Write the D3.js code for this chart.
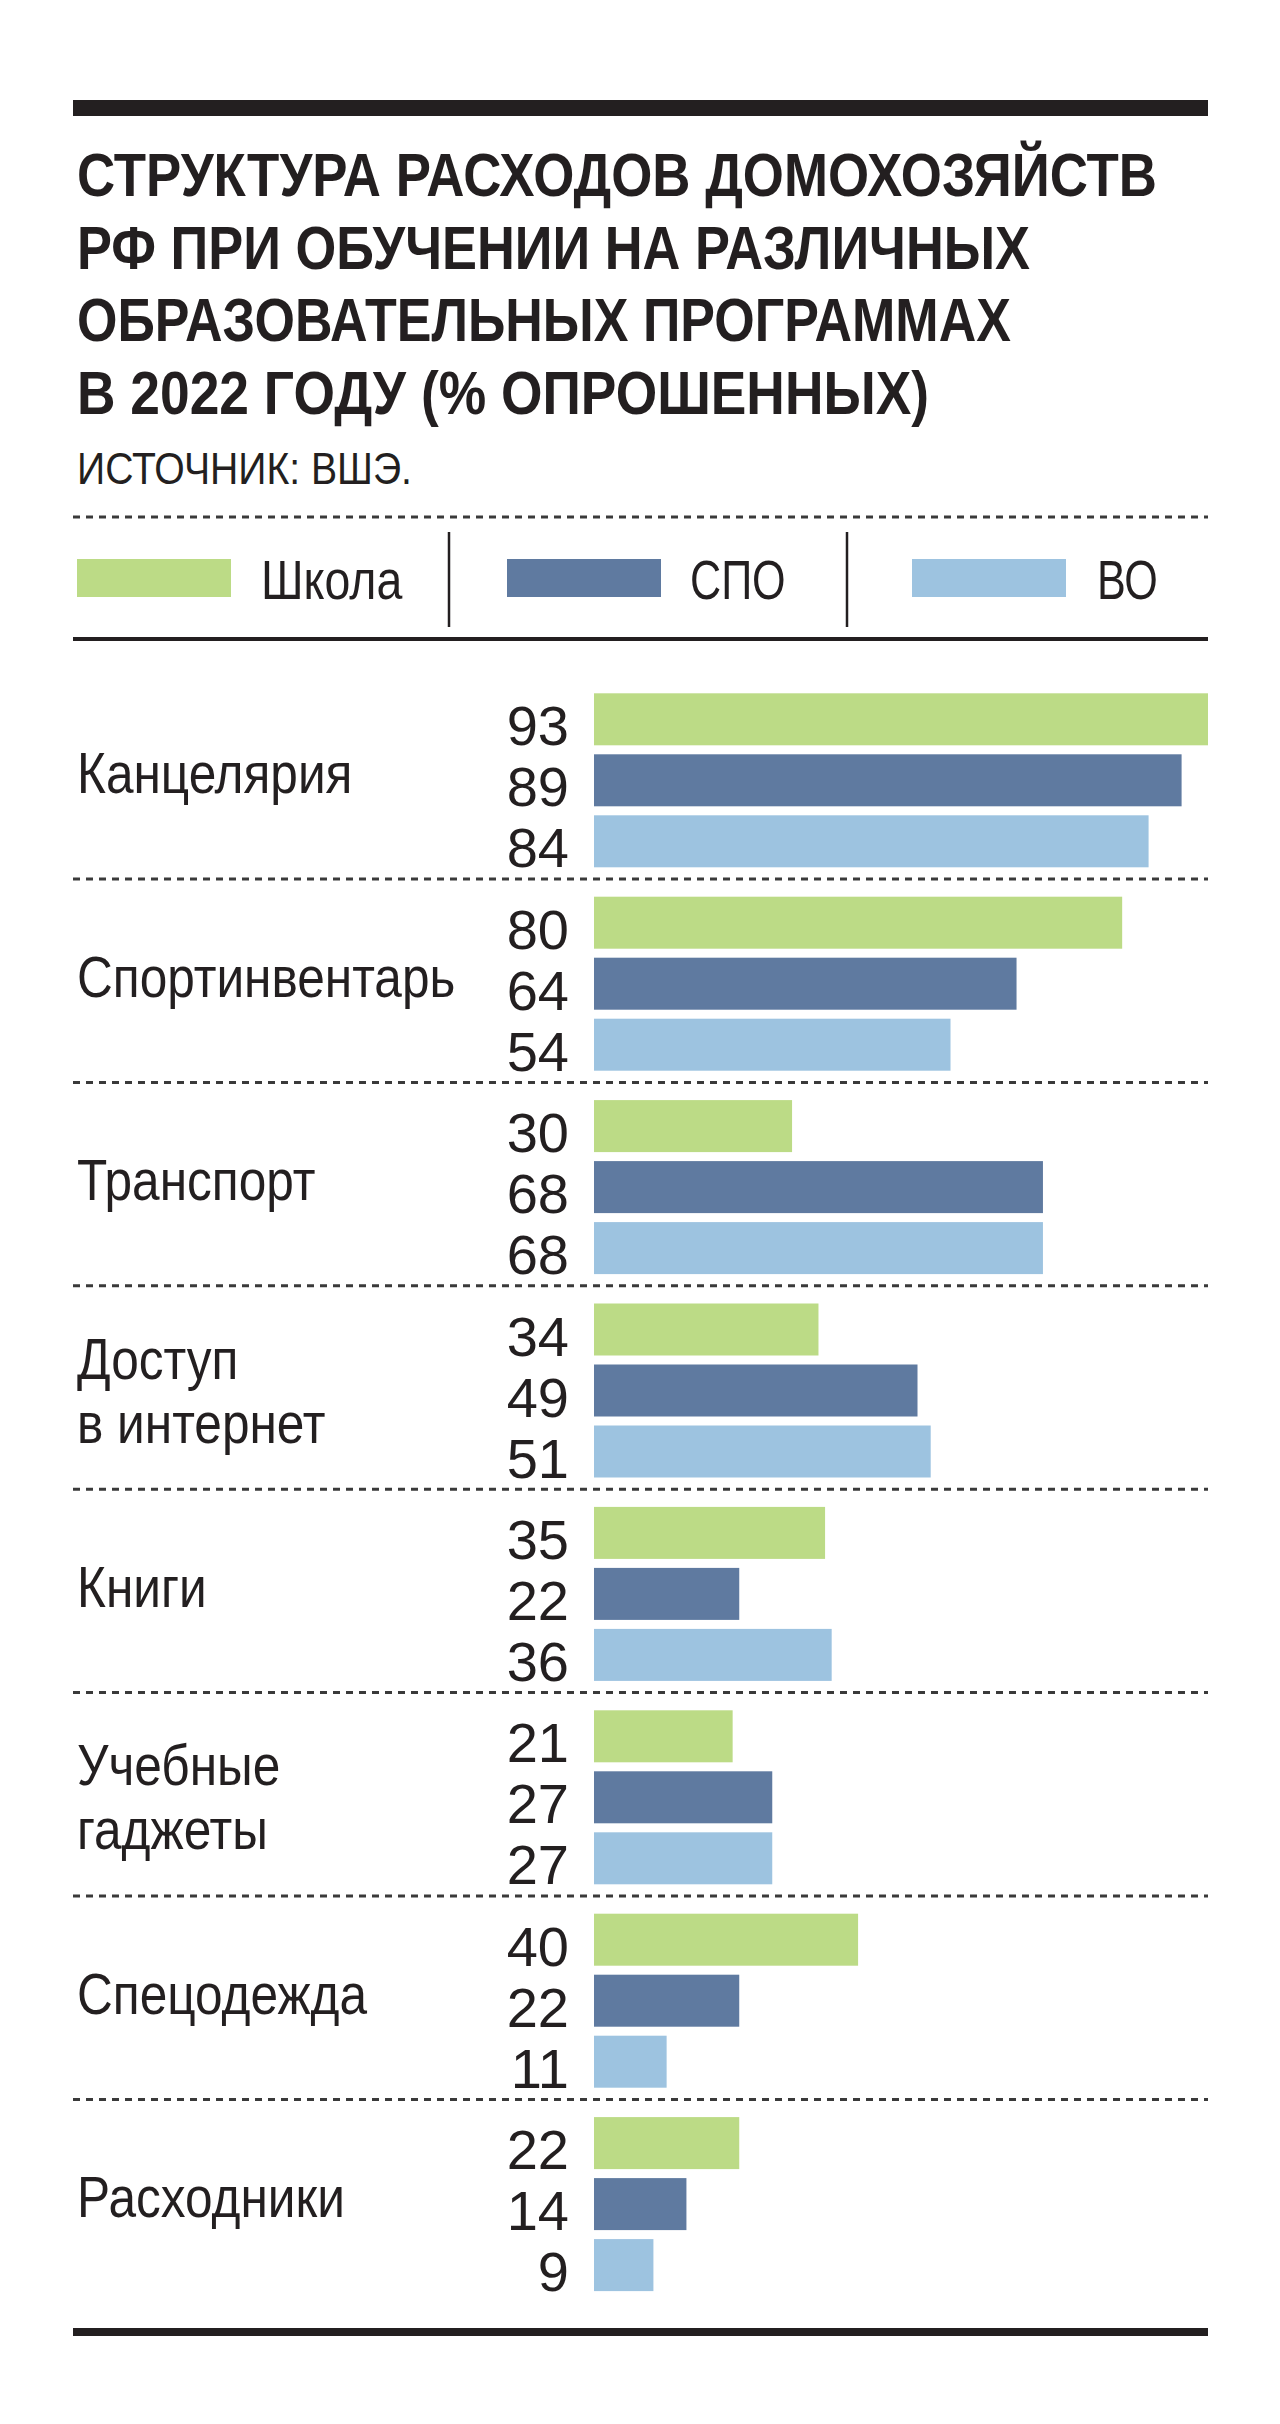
<!DOCTYPE html>
<html>
<head>
<meta charset="utf-8">
<script src="https://cdn.jsdelivr.net/npm/d3@7"></script>
<style>
  html, body { margin: 0; padding: 0; background: #fff; }
  svg { display: block; }
</style>
</head>
<body>
<svg id="chart" width="1280" height="2424"></svg>
<script>
// ---------- DATA ----------
const titleLines = [
  "СТРУКТУРА РАСХОДОВ ДОМОХОЗЯЙСТВ",
  "РФ ПРИ ОБУЧЕНИИ НА РАЗЛИЧНЫХ",
  "ОБРАЗОВАТЕЛЬНЫХ ПРОГРАММАХ",
  "В 2022 ГОДУ (% ОПРОШЕННЫХ)"
];
const sourceText = "ИСТОЧНИК: ВШЭ.";
const categories = [
  "Канцелярия",
  "Спортинвентарь",
  "Транспорт",
  "Доступ\nв интернет",
  "Книги",
  "Учебные\nгаджеты",
  "Спецодежда",
  "Расходники"
];
const seriesNames = ["Школа", "СПО", "ВО"];
const schoolValues = [93, 80, 30, 34, 35, 21, 40, 22];
const spoValues    = [89, 64, 68, 49, 22, 27, 22, 14];
const voValues     = [84, 54, 68, 51, 36, 27, 11, 9];

// ---------- STYLE ----------
const colors = { "Школа": "#bcdb86", "СПО": "#5f7aa0", "ВО": "#9dc3e0" };
const ink = "#231f20";
const font = "'Liberation Sans', Arial, Helvetica, sans-serif";
const L = 73, R = 1208;

const svg = d3.select("#chart");
svg.append("rect").attr("width", 1280).attr("height", 2424).attr("fill", "#fff");

// top thick rule
svg.append("rect").attr("x", L).attr("y", 100).attr("width", R - L).attr("height", 16).attr("fill", ink);

// title
const titleWidths = [1080, 953, 934, 852];
svg.append("g").selectAll("text").data(titleLines).join("text")
  .attr("x", 77)
  .attr("y", (d, i) => 196 + i * 72.5)
  .attr("font-family", font)
  .attr("font-weight", "bold")
  .attr("font-size", 62)
  .attr("fill", ink)
  .attr("textLength", (d, i) => titleWidths[i])
  .attr("lengthAdjust", "spacingAndGlyphs")
  .text(d => d);

// source
svg.append("text")
  .attr("x", 77).attr("y", 484)
  .attr("font-family", font)
  .attr("font-size", 45)
  .attr("fill", ink)
  .attr("textLength", 335)
  .attr("lengthAdjust", "spacingAndGlyphs")
  .text(sourceText);

// dashed line under source
svg.append("line").attr("x1", L).attr("x2", R).attr("y1", 517).attr("y2", 517)
  .attr("stroke", "#3a3a3a").attr("stroke-width", 3).attr("stroke-dasharray", "7,6");

// legend
const legendSwatchX = [77, 507, 912];
const legendTextX = [261, 690, 1097];
const legend = svg.append("g");
seriesNames.forEach((s, i) => {
  legend.append("rect")
    .attr("x", legendSwatchX[i]).attr("y", 559)
    .attr("width", 154).attr("height", 38)
    .attr("fill", colors[s]);
  legend.append("text")
    .attr("transform", `translate(${legendTextX[i]},599) scale(${i === 0 ? 0.83 : 0.77},1)`)
    .attr("font-family", font)
    .attr("font-size", 56)
    .attr("fill", ink)
    .text(s);
});
[449, 847].forEach(x => {
  legend.append("line").attr("x1", x).attr("x2", x).attr("y1", 532).attr("y2", 627)
    .attr("stroke", ink).attr("stroke-width", 2.5);
});
// solid rule under legend
svg.append("rect").attr("x", L).attr("y", 637).attr("width", R - L).attr("height", 4).attr("fill", ink);

// ---------- SCALES ----------
const groupTop = 693.3, groupStep = 203.4;
const y0 = d3.scaleBand().domain(categories)
  .range([groupTop, groupTop + groupStep * categories.length])
  .paddingInner(0).paddingOuter(0);
const y1 = d3.scaleBand().domain(seriesNames).range([0, 174])
  .paddingInner(9 / 61).paddingOuter(0);
const x = d3.scaleLinear().domain([0, 93]).range([594, 1208]);

const rows = categories.map((c, i) => ({
  cat: c,
  vals: [
    { s: "Школа", v: schoolValues[i] },
    { s: "СПО", v: spoValues[i] },
    { s: "ВО", v: voValues[i] }
  ]
}));

// dividers
svg.append("g").selectAll("line").data(categories.slice(0, -1)).join("line")
  .attr("x1", L).attr("x2", R)
  .attr("y1", d => y0(d) + 185.7).attr("y2", d => y0(d) + 185.7)
  .attr("stroke", "#3a3a3a").attr("stroke-width", 3).attr("stroke-dasharray", "7,6");

const groups = svg.append("g").selectAll("g").data(rows).join("g")
  .attr("transform", d => `translate(0,${y0(d.cat)})`);

// bars
groups.selectAll("rect").data(d => d.vals).join("rect")
  .attr("x", x(0))
  .attr("y", d => y1(d.s))
  .attr("width", d => x(d.v) - x(0))
  .attr("height", y1.bandwidth())
  .attr("fill", d => colors[d.s]);

// value labels
groups.selectAll("text.val").data(d => d.vals).join("text")
  .attr("class", "val")
  .attr("x", 569)
  .attr("y", d => y1(d.s) + y1.bandwidth())
  .attr("text-anchor", "end")
  .attr("font-family", font)
  .attr("font-size", 56)
  .attr("fill", ink)
  .text(d => d.v);

// category labels
groups.each(function(d) {
  const lines = d.cat.split("\n");
  const g = d3.select(this);
  const ys = lines.length === 1 ? [100] : [75, 139];
  lines.forEach((t, j) => {
    g.append("text")
      .attr("transform", `translate(77,${ys[j]}) scale(0.855,1)`)
      .attr("font-family", font)
      .attr("font-size", 58)
      .attr("fill", ink)
      .text(t);
  });
});

// bottom rule
svg.append("rect").attr("x", L).attr("y", 2328).attr("width", R - L).attr("height", 8).attr("fill", ink);
</script>
</body>
</html>
